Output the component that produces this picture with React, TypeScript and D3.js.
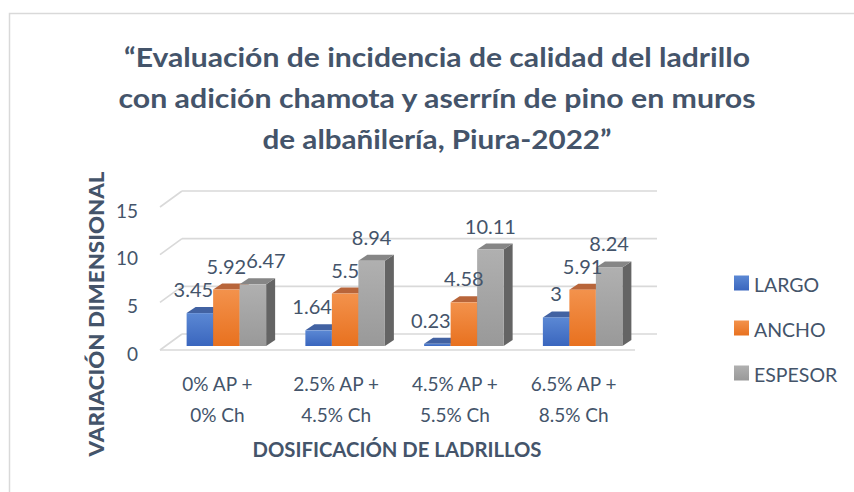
import React from "react";
import * as d3 from "d3";

const titleLines = [
  "“Evaluación de incidencia de calidad del ladrillo",
  "con adición chamota y aserrín de pino en muros",
  "de albañilería, Piura-2022”",
];
const categories = [
  ["0% AP +", "0% Ch"],
  ["2.5% AP +", "4.5% Ch"],
  ["4.5% AP +", "5.5% Ch"],
  ["6.5% AP +", "8.5% Ch"],
];
const seriesNames = ["LARGO", "ANCHO", "ESPESOR"];
const largo = [3.45, 1.64, 0.23, 3];
const ancho = [5.92, 5.5, 4.58, 5.91];
const espesor = [6.47, 8.94, 10.11, 8.24];
const yTicks = [0, 5, 10, 15];
const yTitle = "VARIACIÓN DIMENSIONAL";
const xTitle = "DOSIFICACIÓN DE LADRILLOS";

const seriesValues = [largo, ancho, espesor];

const W = 854;
const H = 492;
const TEXT = "#44546A";
const FONT = "Lato, 'Open Sans', sans-serif";
const GRID = "#D9D9D9";

const palette = [
  { front: ["#5B88D4", "#3A66BE"], top: "#4262A2", side: "#2F4F8F" },
  { front: ["#F3924C", "#E8711F"], top: "#B8653A", side: "#A9521A" },
  { front: ["#B0B0B0", "#999999"], top: "#868686", side: "#646464" },
];

function measure(text: string, font: string): number {
  const c = document.createElement("canvas").getContext("2d");
  if (!c) return text.length * 10;
  c.font = font;
  return c.measureText(text).width;
}

export default function App() {
  const floorLeft = 160;
  const floorRight = 635;
  const depthX = 22;
  const depthY = -16;
  const frontBase = 350;
  const barBase = 346;
  const backBase = frontBase + depthY;
  const pxPerUnit = 143 / 15;

  const yFront = d3.scaleLinear().domain([0, 15]).range([frontBase, frontBase - 15 * pxPerUnit]);
  const yBar = d3.scaleLinear().domain([0, 15]).range([barBase, barBase - 15 * pxPerUnit]);
  const yBack = d3.scaleLinear().domain([0, 15]).range([backBase, backBase - 15 * pxPerUnit]);

  const xCat = d3
    .scaleBand<number>()
    .domain(d3.range(categories.length))
    .range([floorLeft, floorRight])
    .paddingInner(0)
    .paddingOuter(0);
  const step = xCat.step();
  const groupW = 79.5;
  const barShift = 7;
  const xSeries = d3
    .scaleBand<number>()
    .domain(d3.range(seriesNames.length))
    .range([0, groupW])
    .padding(0);
  const bw = xSeries.bandwidth();
  const dX = 9;
  const dY = -6;

  const labelFs = 20;
  const labelFont = `${labelFs}px Lato`;
  const labelH = 18;

  const bars = categories.map((_, ci) => {
    const gx = (xCat(ci) as number) + step / 2 - groupW / 2 + barShift;
    return seriesValues.map((vals, si) => {
      const x = gx + (xSeries(si) as number);
      const yTop = yBar(vals[ci]);
      return { x, yTop, v: vals[ci], si, ci };
    });
  });

  const labels: { x: number; y: number; text: string }[] = [];
  bars.forEach((group) => {
    const placed: { cx: number; cy: number; w: number }[] = [];
    group.forEach((b, si) => {
      const text = String(b.v);
      const w = measure(text, labelFont);
      let cx = b.x + bw / 2;
      const cy = b.yTop - 24;
      if (si === 0 && si < group.length - 1) {
        const nb = group[si + 1];
        if (cx + w / 2 > nb.x && cy + labelH / 2 > nb.yTop) cx = nb.x - w / 2;
      }
      if (si > 0) {
        const p = placed[si - 1];
        if (Math.abs(cy - p.cy) < labelH && cx - w / 2 < p.cx + p.w / 2) {
          cx = p.cx + p.w / 2 + w / 2;
        }
      }
      placed.push({ cx, cy, w });
      labels.push({ x: cx, y: cy, text });
    });
  });

  const backRight = floorRight + depthX;
  const titleWidths = [626, 637, 349];

  return (
    <svg
      width={W}
      height={H}
      style={{ position: "absolute", left: 0, top: 0, background: "#fff" }}
      fontFamily={FONT}
    >
      <defs>
        {palette.map((p, i) => (
          <linearGradient key={i} id={`g${i}`} x1="0" y1="0" x2="0" y2="1">
            <stop offset="0" stopColor={p.front[0]} />
            <stop offset="1" stopColor={p.front[1]} />
          </linearGradient>
        ))}
      </defs>
      <rect x={9.5} y={13.5} width={W} height={H} fill="#fff" stroke={GRID} strokeWidth={1.5} />

      {titleLines.map((t, i) => (
        <text
          key={i}
          x={437}
          y={56 + i * 41}
          textAnchor="middle"
          dominantBaseline="central"
          fontSize={27}
          fontWeight={700}
          fill={TEXT}
          textLength={titleWidths[i]}
          lengthAdjust="spacingAndGlyphs"
        >
          {t}
        </text>
      ))}

      {yTicks.map((t) => (
        <g key={t}>
          <line
            x1={floorLeft}
            y1={yFront(t)}
            x2={floorLeft + depthX}
            y2={yBack(t)}
            stroke={GRID}
            strokeWidth={1.6}
          />
          <line
            x1={floorLeft + depthX}
            y1={yBack(t)}
            x2={backRight}
            y2={yBack(t)}
            stroke={GRID}
            strokeWidth={1.6}
          />
        </g>
      ))}
      <line x1={floorLeft} y1={frontBase} x2={floorRight} y2={frontBase} stroke={GRID} strokeWidth={1.6} />

      {yTicks.map((t) => (
        <text
          key={t}
          x={138}
          y={yFront(t) + 3}
          textAnchor="end"
          dominantBaseline="central"
          fontSize={19}
          fill={TEXT}
        >
          {t}
        </text>
      ))}

      {bars.map((group, ci) => (
        <g key={ci}>
          {group.map((b) => {
            const p = palette[b.si];
            const x0 = b.x;
            const x1 = b.x + bw;
            const yT = b.yTop;
            const yB = barBase;
            return (
              <g key={b.si}>
                <polygon
                  points={`${x1},${yT} ${x1 + dX},${yT + dY} ${x1 + dX},${yB + dY} ${x1},${yB}`}
                  fill={p.side}
                />
                <polygon
                  points={`${x0},${yT} ${x0 + dX},${yT + dY} ${x1 + dX},${yT + dY} ${x1},${yT}`}
                  fill={p.top}
                />
                <rect x={x0} y={yT} width={bw} height={yB - yT} fill={`url(#g${b.si})`} />
              </g>
            );
          })}
        </g>
      ))}

      {labels.map((l, i) => (
        <text
          key={i}
          x={l.x}
          y={l.y}
          textAnchor="middle"
          dominantBaseline="central"
          fontSize={labelFs}
          fill={TEXT}
        >
          {l.text}
        </text>
      ))}

      {categories.map((c, ci) => (
        <g key={ci}>
          {c.map((line, li) => (
            <text
              key={li}
              x={(xCat(ci) as number) + step / 2 - 2}
              y={383 + li * 31}
              textAnchor="middle"
              dominantBaseline="central"
              fontSize={19}
              fill={TEXT}
            >
              {line}
            </text>
          ))}
        </g>
      ))}

      <text
        x={397}
        y={449}
        textAnchor="middle"
        dominantBaseline="central"
        fontSize={20}
        fontWeight={700}
        fill={TEXT}
        textLength={289}
        lengthAdjust="spacingAndGlyphs"
      >
        {xTitle}
      </text>
      <text
        transform={`translate(95,314) rotate(-90)`}
        textAnchor="middle"
        dominantBaseline="central"
        fontSize={21}
        fontWeight={900}
        fill={TEXT}
        textLength={285}
        lengthAdjust="spacingAndGlyphs"
      >
        {yTitle}
      </text>

      {seriesNames.map((n, i) => (
        <g key={n} transform={`translate(734,${283 + i * 45})`}>
          <rect x={0} y={-7.5} width={15} height={15} fill={`url(#g${i})`} />
          <text x={20} y={1} dominantBaseline="central" fontSize={19.5} fill={TEXT}>
            {n}
          </text>
        </g>
      ))}
    </svg>
  );
}
